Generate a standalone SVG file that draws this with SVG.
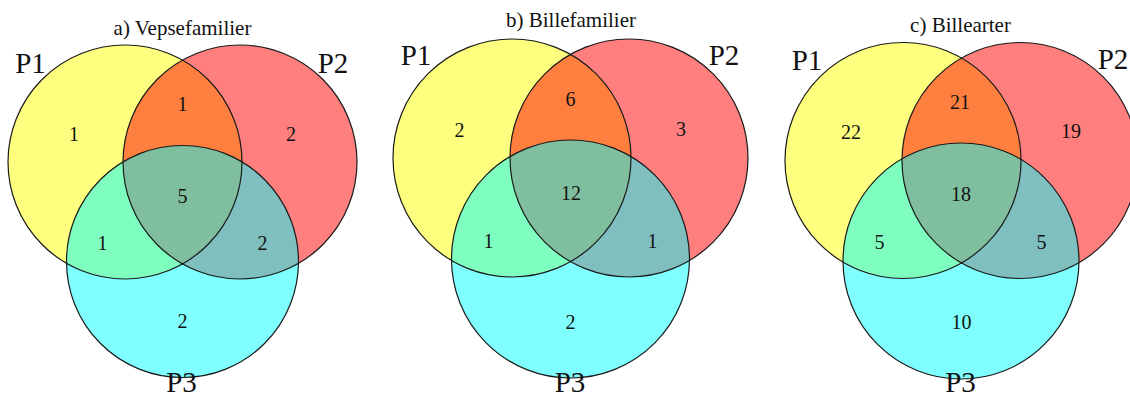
<svg xmlns="http://www.w3.org/2000/svg" width="1130" height="394" viewBox="0 0 1130 394">
  <style>
    .p1 { fill: #ffff00; fill-opacity: 0.5; }
    .p2 { fill: #ff0000; fill-opacity: 0.5; }
    .p3 { fill: #00ffff; fill-opacity: 0.5; }
    .ring { fill: none; stroke: #1a1a1a; stroke-width: 1.2; }
    text { font-family: "Liberation Serif", "Times New Roman", serif; fill: #111; text-anchor: middle; }
    .title { font-size: 21px; }
    .set { font-size: 29px; }
    .num { font-size: 20px; }
  </style>
  <rect width="1130" height="394" fill="#ffffff"/>

  <!-- a) Vepsefamilier -->
  <g id="venn-a">
    <g id="a-fills">
      <circle class="p1" cx="125" cy="162" r="117"/>
      <circle class="p2" cx="240" cy="162" r="117"/>
      <circle class="p3" cx="182.5" cy="261.5" r="116"/>
    </g>
    <g id="a-rings">
      <circle class="ring" cx="125" cy="162" r="117"/>
      <circle class="ring" cx="240" cy="162" r="117"/>
      <circle class="ring" cx="182.5" cy="261.5" r="116"/>
    </g>
    <text class="title" x="182.5" y="35">a) Vepsefamilier</text>
    <text class="set" x="30.5" y="73">P1</text>
    <text class="set" x="333" y="73">P2</text>
    <text class="set" x="181.5" y="392">P3</text>
    <text class="num" x="74" y="141">1</text>
    <text class="num" x="182.5" y="111">1</text>
    <text class="num" x="291" y="141">2</text>
    <text class="num" x="182.5" y="203">5</text>
    <text class="num" x="102.5" y="250">1</text>
    <text class="num" x="262.5" y="250">2</text>
    <text class="num" x="182.5" y="328">2</text>
  </g>

  <!-- b) Billefamilier -->
  <g id="venn-b">
    <g id="b-fills">
      <circle class="p1" cx="512" cy="158" r="119"/>
      <circle class="p2" cx="629" cy="158" r="119"/>
      <circle class="p3" cx="570.5" cy="259" r="119"/>
    </g>
    <g id="b-rings">
      <circle class="ring" cx="512" cy="158" r="119"/>
      <circle class="ring" cx="629" cy="158" r="119"/>
      <circle class="ring" cx="570.5" cy="259" r="119"/>
    </g>
    <text class="title" x="571" y="27">b) Billefamilier</text>
    <text class="set" x="416" y="65">P1</text>
    <text class="set" x="724" y="65">P2</text>
    <text class="set" x="570" y="392">P3</text>
    <text class="num" x="459.5" y="136.5">2</text>
    <text class="num" x="570.5" y="106">6</text>
    <text class="num" x="681" y="136">3</text>
    <text class="num" x="571" y="200">12</text>
    <text class="num" x="488.5" y="247.5">1</text>
    <text class="num" x="652.5" y="247.5">1</text>
    <text class="num" x="570.5" y="328.5">2</text>
  </g>

  <!-- c) Billearter -->
  <g id="venn-c">
    <g id="c-fills">
      <circle class="p1" cx="903" cy="160.5" r="118"/>
      <circle class="p2" cx="1020" cy="160.5" r="118"/>
      <circle class="p3" cx="961" cy="261" r="118"/>
    </g>
    <g id="c-rings">
      <circle class="ring" cx="903" cy="160.5" r="118"/>
      <circle class="ring" cx="1020" cy="160.5" r="118"/>
      <circle class="ring" cx="961" cy="261" r="118"/>
    </g>
    <text class="title" x="960.5" y="31.5">c) Billearter</text>
    <text class="set" x="807" y="70">P1</text>
    <text class="set" x="1113" y="69">P2</text>
    <text class="set" x="960.5" y="392">P3</text>
    <text class="num" x="851" y="138.5">22</text>
    <text class="num" x="960" y="108.5">21</text>
    <text class="num" x="1071" y="138">19</text>
    <text class="num" x="961" y="201">18</text>
    <text class="num" x="879.5" y="248.5">5</text>
    <text class="num" x="1041.5" y="248.5">5</text>
    <text class="num" x="961.5" y="328.5">10</text>
  </g>
</svg>
